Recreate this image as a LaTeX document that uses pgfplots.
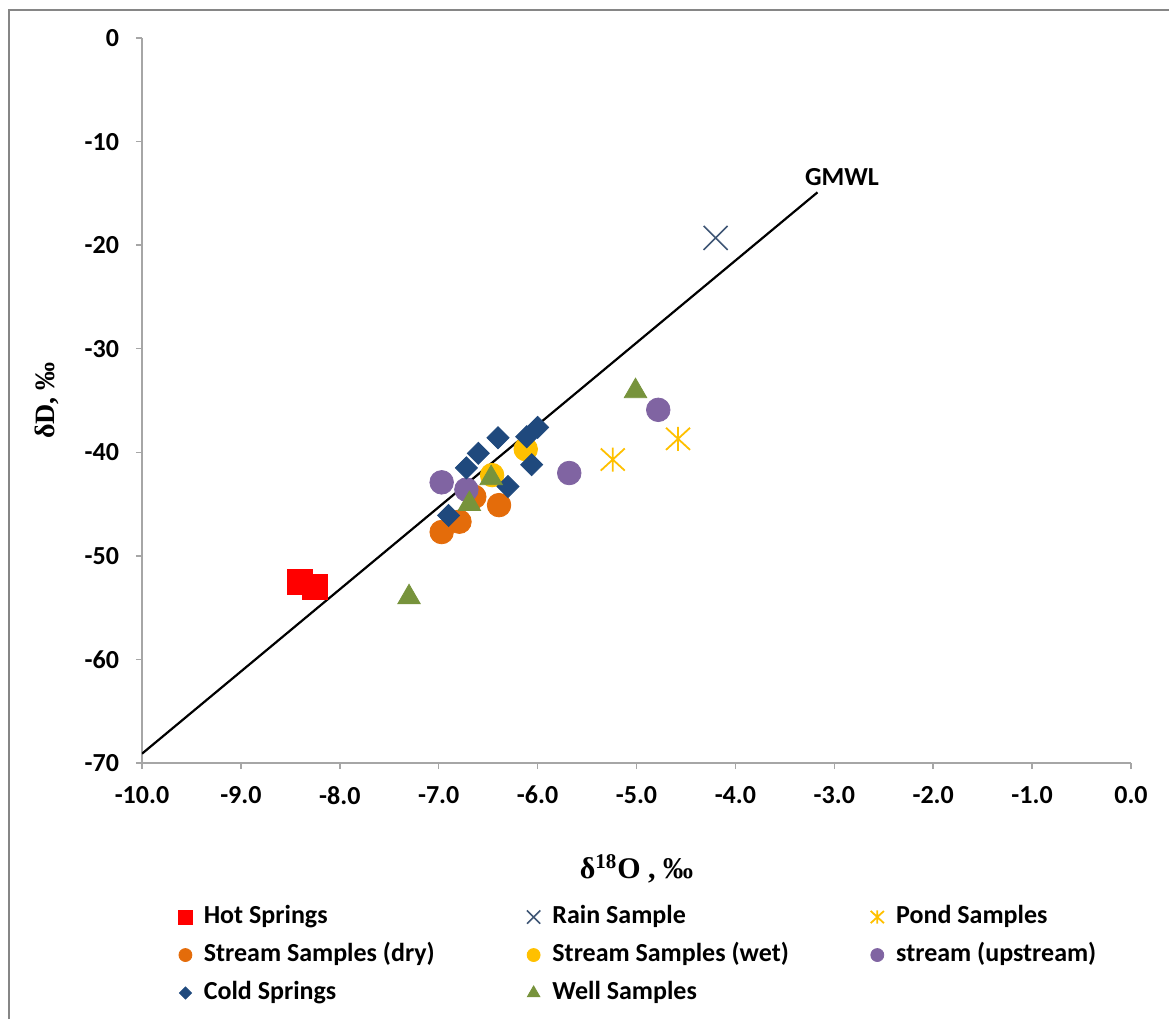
\documentclass[border=0pt]{standalone}
\usepackage{pgfplots}
\pgfplotsset{compat=1.18}
\usepackage{fontspec}
\setmainfont{Carlito}
\newfontfamily\tnr{Liberation Serif}
\definecolor{hotc}{HTML}{FF0000}
\definecolor{rainc}{HTML}{3F5675}
\definecolor{pondc}{HTML}{FFC000}
\definecolor{dryc}{HTML}{E46C0A}
\definecolor{wetc}{HTML}{FFC000}
\definecolor{upc}{HTML}{8064A2}
\definecolor{coldc}{HTML}{1F497D}
\definecolor{wellc}{HTML}{77933C}
\definecolor{axgray}{HTML}{A6A6A6}
\definecolor{framegray}{HTML}{868686}
\pgfdeclareplotmark{bigx}{%
  \pgfpathmoveto{\pgfqpoint{-\pgfplotmarksize}{-\pgfplotmarksize}}%
  \pgfpathlineto{\pgfqpoint{\pgfplotmarksize}{\pgfplotmarksize}}%
  \pgfpathmoveto{\pgfqpoint{-\pgfplotmarksize}{\pgfplotmarksize}}%
  \pgfpathlineto{\pgfqpoint{\pgfplotmarksize}{-\pgfplotmarksize}}%
  \pgfusepathqstroke}
\pgfdeclareplotmark{xstar}{%
  \pgfpathmoveto{\pgfqpoint{-\pgfplotmarksize}{-0.92\pgfplotmarksize}}%
  \pgfpathlineto{\pgfqpoint{\pgfplotmarksize}{0.92\pgfplotmarksize}}%
  \pgfpathmoveto{\pgfqpoint{-\pgfplotmarksize}{0.92\pgfplotmarksize}}%
  \pgfpathlineto{\pgfqpoint{\pgfplotmarksize}{-0.92\pgfplotmarksize}}%
  \pgfpathmoveto{\pgfqpoint{0pt}{-\pgfplotmarksize}}%
  \pgfpathlineto{\pgfqpoint{0pt}{\pgfplotmarksize}}%
  \pgfusepathqstroke}
\begin{document}
\begin{tikzpicture}[x=1pt,y=1pt]
\useasboundingbox (0,0) rectangle (584.5,-509.5);
\draw[framegray, line width=1pt] (4.5,-509.5) -- (4.5,-5) -- (584.5,-5);
\begin{axis}[
  at={(71pt,-381.5pt)}, anchor=south west,
  scale only axis, width=494.5pt, height=362.5pt,
  xmin=-10, xmax=0, ymin=-70, ymax=0,
  axis x line*=bottom, axis y line*=left,
  axis line style={-, draw=axgray, line width=0.75pt},
  tick style={draw=axgray, line width=0.75pt},
  tick align=outside, major tick length=3pt,
  xtick={-10,-9,...,0}, ytick={-70,-60,...,0},
  /pgf/number format/assume math mode=true,
  ticklabel style={font=\bfseries\fontsize{13}{15}\selectfont},
  xticklabel style={/pgf/number format/fixed, /pgf/number format/fixed zerofill, /pgf/number format/precision=1, yshift=-5pt},
  yticklabel style={xshift=-5pt},
  xlabel={\tnr\bfseries\fontsize{15}{17}\selectfont δ\textsuperscript{18}O , ‰},
  ylabel={\tnr\bfseries\fontsize{14}{16}\selectfont δD, ‰},
  xlabel style={at={(axis description cs:0.5,-0.146)}, anchor=center},
  ylabel style={at={(axis description cs:-0.0961,0.5)}, anchor=center},
  only marks,
  legend image code/.code={\path (0pt,0pt) (10pt,0pt); \draw[#1, mark size=0.55*\pgfplotmarksize] plot coordinates {(5pt,0pt)};},
  legend columns=3,
  legend style={at={(axis description cs:0.0334,-0.1959)}, anchor=north west, draw=none, fill=none, inner sep=0pt, outer sep=0pt, row sep=7pt,
    nodes={inner sep=0pt, text height=9pt, text depth=3pt, font=\bfseries\fontsize{13}{15}\selectfont},
    /tikz/every odd column/.append style={column sep=4pt}},
  legend cell align=left,
]
\addplot[mark=square*, mark size=6.25pt, color=hotc] coordinates {(-8.40,-52.5) (-8.25,-53.0)};
\addlegendentry{\makebox[159.5pt][l]{Hot Springs}}
\addplot[mark=bigx, mark size=6pt, color=rainc, line width=0.8pt] coordinates {(-4.20,-19.3)};
\addlegendentry{\makebox[157pt][l]{Rain Sample}}
\addplot[mark=xstar, mark size=6pt, color=pondc, line width=0.9pt] coordinates {(-5.24,-40.7) (-4.58,-38.7)};
\addlegendentry{Pond Samples}
\addplot[mark=*, mark size=5.9pt, color=dryc] coordinates {(-6.97,-47.7) (-6.79,-46.7) (-6.64,-44.3) (-6.39,-45.1)};
\addlegendentry{\makebox[159.5pt][l]{Stream Samples (dry)}}
\addplot[mark=*, mark size=5.9pt, color=wetc] coordinates {(-6.12,-39.7) (-6.46,-42.2)};
\addlegendentry{\makebox[157pt][l]{Stream Samples (wet)}}
\addplot[mark=*, mark size=5.9pt, color=upc] coordinates {(-6.97,-42.9) (-6.72,-43.6) (-5.68,-42.0) (-4.78,-35.9)};
\addlegendentry{stream (upstream)}
\addplot[mark=square*, mark size=3.9pt, mark options={rotate=45}, color=coldc] coordinates {(-6.40,-38.6) (-6.60,-40.1) (-6.72,-41.5) (-6.00,-37.6) (-6.11,-38.5) (-6.06,-41.2) (-6.30,-43.3) (-6.90,-46.1)};
\addlegendentry{\makebox[159.5pt][l]{Cold Springs}}
\addplot[mark=triangle*, mark size=6.5pt, color=wellc] coordinates {(-6.47,-42.5) (-6.69,-45.0) (-7.30,-54.0) (-5.01,-34.1)};
\addlegendentry{\makebox[157pt][l]{Well Samples}}
\addplot[sharp plot, no marks, black, line width=1.1pt, forget plot] coordinates {(-10,-69.1) (-3.17,-14.9)};
\node[anchor=west, inner sep=0pt, font=\bfseries\fontsize{13}{15}\selectfont] at (axis cs:-3.30,-13.4) {GMWL};
\end{axis}
\end{tikzpicture}
\end{document}
